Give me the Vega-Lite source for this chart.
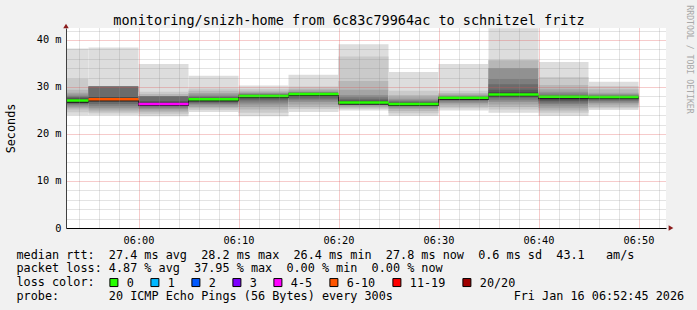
{
  "$schema": "https://vega.github.io/schema/vega-lite/v6.json",
  "width": 600,
  "height": 200,
  "autosize": {"type": "none"},
  "padding": {"left": 66, "top": 28, "right": 31, "bottom": 82},
  "background": "#f1f1f1",
  "config": {
    "view": {"stroke": null, "fill": "#ffffff"},
    "font": "DejaVu Sans Mono",
    "axis": {"labelFont": "DejaVu Sans Mono", "titleFont": "DejaVu Sans Mono", "labelColor": "#000000", "titleColor": "#000000", "titleFontWeight": "normal"}
  },
  "title": {
    "text": "monitoring/snizh-home from 6c83c79964ac to schnitzel fritz",
    "font": "DejaVu Sans Mono", "fontSize": 13.5, "fontWeight": "normal", "color": "#000000",
    "anchor": "middle", "frame": "bounds", "offset": -23
  },
  "datasets": {
    "smoke": [
      {"s": "2026-01-16T05:50:00Z", "e": "2026-01-16T05:55:00Z", "k": 1, "lo": 24.0, "hi": 38.2},
      {"s": "2026-01-16T05:50:00Z", "e": "2026-01-16T05:55:00Z", "k": 2, "lo": 24.6, "hi": 31.7},
      {"s": "2026-01-16T05:50:00Z", "e": "2026-01-16T05:55:00Z", "k": 3, "lo": 25.2, "hi": 29.4},
      {"s": "2026-01-16T05:50:00Z", "e": "2026-01-16T05:55:00Z", "k": 4, "lo": 25.6, "hi": 28.8},
      {"s": "2026-01-16T05:50:00Z", "e": "2026-01-16T05:55:00Z", "k": 5, "lo": 25.9, "hi": 28.4},
      {"s": "2026-01-16T05:50:00Z", "e": "2026-01-16T05:55:00Z", "k": 6, "lo": 26.2, "hi": 28.1},
      {"s": "2026-01-16T05:50:00Z", "e": "2026-01-16T05:55:00Z", "k": 7, "lo": 26.4, "hi": 27.9},
      {"s": "2026-01-16T05:50:00Z", "e": "2026-01-16T05:55:00Z", "k": 8, "lo": 26.6, "hi": 27.7},
      {"s": "2026-01-16T05:50:00Z", "e": "2026-01-16T05:55:00Z", "k": 9, "lo": 26.8, "hi": 27.5},
      {"s": "2026-01-16T05:50:00Z", "e": "2026-01-16T05:55:00Z", "k": 10, "lo": 26.95, "hi": 27.3},
      {"s": "2026-01-16T05:55:00Z", "e": "2026-01-16T06:00:00Z", "k": 1, "lo": 24.0, "hi": 38.4},
      {"s": "2026-01-16T05:55:00Z", "e": "2026-01-16T06:00:00Z", "k": 2, "lo": 24.4, "hi": 30.1},
      {"s": "2026-01-16T05:55:00Z", "e": "2026-01-16T06:00:00Z", "k": 3, "lo": 24.8, "hi": 30.1},
      {"s": "2026-01-16T05:55:00Z", "e": "2026-01-16T06:00:00Z", "k": 4, "lo": 25.2, "hi": 30.1},
      {"s": "2026-01-16T05:55:00Z", "e": "2026-01-16T06:00:00Z", "k": 5, "lo": 25.6, "hi": 30.1},
      {"s": "2026-01-16T05:55:00Z", "e": "2026-01-16T06:00:00Z", "k": 6, "lo": 26.0, "hi": 30.1},
      {"s": "2026-01-16T05:55:00Z", "e": "2026-01-16T06:00:00Z", "k": 7, "lo": 26.4, "hi": 30.1},
      {"s": "2026-01-16T05:55:00Z", "e": "2026-01-16T06:00:00Z", "k": 8, "lo": 26.8, "hi": 28.0},
      {"s": "2026-01-16T05:55:00Z", "e": "2026-01-16T06:00:00Z", "k": 9, "lo": 27.0, "hi": 27.8},
      {"s": "2026-01-16T05:55:00Z", "e": "2026-01-16T06:00:00Z", "k": 10, "lo": 27.2, "hi": 27.6},
      {"s": "2026-01-16T06:00:00Z", "e": "2026-01-16T06:05:00Z", "k": 1, "lo": 23.8, "hi": 34.9},
      {"s": "2026-01-16T06:00:00Z", "e": "2026-01-16T06:05:00Z", "k": 2, "lo": 24.2, "hi": 29.0},
      {"s": "2026-01-16T06:00:00Z", "e": "2026-01-16T06:05:00Z", "k": 3, "lo": 24.6, "hi": 28.5},
      {"s": "2026-01-16T06:00:00Z", "e": "2026-01-16T06:05:00Z", "k": 4, "lo": 25.0, "hi": 28.1},
      {"s": "2026-01-16T06:00:00Z", "e": "2026-01-16T06:05:00Z", "k": 5, "lo": 25.3, "hi": 28.1},
      {"s": "2026-01-16T06:00:00Z", "e": "2026-01-16T06:05:00Z", "k": 6, "lo": 25.6, "hi": 28.1},
      {"s": "2026-01-16T06:00:00Z", "e": "2026-01-16T06:05:00Z", "k": 7, "lo": 25.8, "hi": 28.1},
      {"s": "2026-01-16T06:00:00Z", "e": "2026-01-16T06:05:00Z", "k": 8, "lo": 26.0, "hi": 27.0},
      {"s": "2026-01-16T06:00:00Z", "e": "2026-01-16T06:05:00Z", "k": 9, "lo": 26.15, "hi": 26.8},
      {"s": "2026-01-16T06:00:00Z", "e": "2026-01-16T06:05:00Z", "k": 10, "lo": 26.3, "hi": 26.6},
      {"s": "2026-01-16T06:05:00Z", "e": "2026-01-16T06:10:00Z", "k": 1, "lo": 24.7, "hi": 32.4},
      {"s": "2026-01-16T06:05:00Z", "e": "2026-01-16T06:10:00Z", "k": 2, "lo": 25.1, "hi": 29.7},
      {"s": "2026-01-16T06:05:00Z", "e": "2026-01-16T06:10:00Z", "k": 3, "lo": 25.5, "hi": 29.2},
      {"s": "2026-01-16T06:05:00Z", "e": "2026-01-16T06:10:00Z", "k": 4, "lo": 25.8, "hi": 28.7},
      {"s": "2026-01-16T06:05:00Z", "e": "2026-01-16T06:10:00Z", "k": 5, "lo": 26.1, "hi": 28.4},
      {"s": "2026-01-16T06:05:00Z", "e": "2026-01-16T06:10:00Z", "k": 6, "lo": 26.4, "hi": 28.1},
      {"s": "2026-01-16T06:05:00Z", "e": "2026-01-16T06:10:00Z", "k": 7, "lo": 26.6, "hi": 27.9},
      {"s": "2026-01-16T06:05:00Z", "e": "2026-01-16T06:10:00Z", "k": 8, "lo": 26.8, "hi": 27.7},
      {"s": "2026-01-16T06:05:00Z", "e": "2026-01-16T06:10:00Z", "k": 9, "lo": 27.0, "hi": 27.6},
      {"s": "2026-01-16T06:05:00Z", "e": "2026-01-16T06:10:00Z", "k": 10, "lo": 27.2, "hi": 27.5},
      {"s": "2026-01-16T06:10:00Z", "e": "2026-01-16T06:15:00Z", "k": 1, "lo": 23.8, "hi": 30.3},
      {"s": "2026-01-16T06:10:00Z", "e": "2026-01-16T06:15:00Z", "k": 2, "lo": 24.5, "hi": 29.6},
      {"s": "2026-01-16T06:10:00Z", "e": "2026-01-16T06:15:00Z", "k": 3, "lo": 25.2, "hi": 29.2},
      {"s": "2026-01-16T06:10:00Z", "e": "2026-01-16T06:15:00Z", "k": 4, "lo": 25.8, "hi": 28.9},
      {"s": "2026-01-16T06:10:00Z", "e": "2026-01-16T06:15:00Z", "k": 5, "lo": 26.3, "hi": 28.7},
      {"s": "2026-01-16T06:10:00Z", "e": "2026-01-16T06:15:00Z", "k": 6, "lo": 26.7, "hi": 28.5},
      {"s": "2026-01-16T06:10:00Z", "e": "2026-01-16T06:15:00Z", "k": 7, "lo": 27.1, "hi": 28.4},
      {"s": "2026-01-16T06:10:00Z", "e": "2026-01-16T06:15:00Z", "k": 8, "lo": 27.4, "hi": 28.3},
      {"s": "2026-01-16T06:10:00Z", "e": "2026-01-16T06:15:00Z", "k": 9, "lo": 27.7, "hi": 28.2},
      {"s": "2026-01-16T06:10:00Z", "e": "2026-01-16T06:15:00Z", "k": 10, "lo": 27.9, "hi": 28.15},
      {"s": "2026-01-16T06:15:00Z", "e": "2026-01-16T06:20:00Z", "k": 1, "lo": 24.7, "hi": 32.6},
      {"s": "2026-01-16T06:15:00Z", "e": "2026-01-16T06:20:00Z", "k": 2, "lo": 25.3, "hi": 30.1},
      {"s": "2026-01-16T06:15:00Z", "e": "2026-01-16T06:20:00Z", "k": 3, "lo": 25.8, "hi": 29.6},
      {"s": "2026-01-16T06:15:00Z", "e": "2026-01-16T06:20:00Z", "k": 4, "lo": 26.3, "hi": 29.3},
      {"s": "2026-01-16T06:15:00Z", "e": "2026-01-16T06:20:00Z", "k": 5, "lo": 26.8, "hi": 29.0},
      {"s": "2026-01-16T06:15:00Z", "e": "2026-01-16T06:20:00Z", "k": 6, "lo": 27.2, "hi": 28.9},
      {"s": "2026-01-16T06:15:00Z", "e": "2026-01-16T06:20:00Z", "k": 7, "lo": 27.5, "hi": 28.8},
      {"s": "2026-01-16T06:15:00Z", "e": "2026-01-16T06:20:00Z", "k": 8, "lo": 27.8, "hi": 28.7},
      {"s": "2026-01-16T06:15:00Z", "e": "2026-01-16T06:20:00Z", "k": 9, "lo": 28.1, "hi": 28.6},
      {"s": "2026-01-16T06:15:00Z", "e": "2026-01-16T06:20:00Z", "k": 10, "lo": 28.3, "hi": 28.55},
      {"s": "2026-01-16T06:20:00Z", "e": "2026-01-16T06:25:00Z", "k": 1, "lo": 25.0, "hi": 39.1},
      {"s": "2026-01-16T06:20:00Z", "e": "2026-01-16T06:25:00Z", "k": 2, "lo": 25.3, "hi": 36.5},
      {"s": "2026-01-16T06:20:00Z", "e": "2026-01-16T06:25:00Z", "k": 3, "lo": 25.6, "hi": 31.3},
      {"s": "2026-01-16T06:20:00Z", "e": "2026-01-16T06:25:00Z", "k": 4, "lo": 25.9, "hi": 29.4},
      {"s": "2026-01-16T06:20:00Z", "e": "2026-01-16T06:25:00Z", "k": 5, "lo": 26.1, "hi": 28.3},
      {"s": "2026-01-16T06:20:00Z", "e": "2026-01-16T06:25:00Z", "k": 6, "lo": 26.3, "hi": 27.9},
      {"s": "2026-01-16T06:20:00Z", "e": "2026-01-16T06:25:00Z", "k": 7, "lo": 26.4, "hi": 27.5},
      {"s": "2026-01-16T06:20:00Z", "e": "2026-01-16T06:25:00Z", "k": 8, "lo": 26.5, "hi": 27.2},
      {"s": "2026-01-16T06:20:00Z", "e": "2026-01-16T06:25:00Z", "k": 9, "lo": 26.6, "hi": 27.0},
      {"s": "2026-01-16T06:20:00Z", "e": "2026-01-16T06:25:00Z", "k": 10, "lo": 26.65, "hi": 26.85},
      {"s": "2026-01-16T06:25:00Z", "e": "2026-01-16T06:30:00Z", "k": 1, "lo": 23.9, "hi": 33.2},
      {"s": "2026-01-16T06:25:00Z", "e": "2026-01-16T06:30:00Z", "k": 2, "lo": 24.4, "hi": 29.2},
      {"s": "2026-01-16T06:25:00Z", "e": "2026-01-16T06:30:00Z", "k": 3, "lo": 24.9, "hi": 28.3},
      {"s": "2026-01-16T06:25:00Z", "e": "2026-01-16T06:30:00Z", "k": 4, "lo": 25.3, "hi": 27.8},
      {"s": "2026-01-16T06:25:00Z", "e": "2026-01-16T06:30:00Z", "k": 5, "lo": 25.6, "hi": 27.4},
      {"s": "2026-01-16T06:25:00Z", "e": "2026-01-16T06:30:00Z", "k": 6, "lo": 25.8, "hi": 27.1},
      {"s": "2026-01-16T06:25:00Z", "e": "2026-01-16T06:30:00Z", "k": 7, "lo": 26.0, "hi": 26.9},
      {"s": "2026-01-16T06:25:00Z", "e": "2026-01-16T06:30:00Z", "k": 8, "lo": 26.1, "hi": 26.75},
      {"s": "2026-01-16T06:25:00Z", "e": "2026-01-16T06:30:00Z", "k": 9, "lo": 26.2, "hi": 26.6},
      {"s": "2026-01-16T06:25:00Z", "e": "2026-01-16T06:30:00Z", "k": 10, "lo": 26.3, "hi": 26.5},
      {"s": "2026-01-16T06:30:00Z", "e": "2026-01-16T06:35:00Z", "k": 1, "lo": 25.0, "hi": 34.9},
      {"s": "2026-01-16T06:30:00Z", "e": "2026-01-16T06:35:00Z", "k": 2, "lo": 25.5, "hi": 29.2},
      {"s": "2026-01-16T06:30:00Z", "e": "2026-01-16T06:35:00Z", "k": 3, "lo": 25.9, "hi": 28.7},
      {"s": "2026-01-16T06:30:00Z", "e": "2026-01-16T06:35:00Z", "k": 4, "lo": 26.3, "hi": 28.4},
      {"s": "2026-01-16T06:30:00Z", "e": "2026-01-16T06:35:00Z", "k": 5, "lo": 26.6, "hi": 28.2},
      {"s": "2026-01-16T06:30:00Z", "e": "2026-01-16T06:35:00Z", "k": 6, "lo": 26.9, "hi": 28.0},
      {"s": "2026-01-16T06:30:00Z", "e": "2026-01-16T06:35:00Z", "k": 7, "lo": 27.1, "hi": 27.95},
      {"s": "2026-01-16T06:30:00Z", "e": "2026-01-16T06:35:00Z", "k": 8, "lo": 27.3, "hi": 27.9},
      {"s": "2026-01-16T06:30:00Z", "e": "2026-01-16T06:35:00Z", "k": 9, "lo": 27.45, "hi": 27.85},
      {"s": "2026-01-16T06:30:00Z", "e": "2026-01-16T06:35:00Z", "k": 10, "lo": 27.6, "hi": 27.8},
      {"s": "2026-01-16T06:35:00Z", "e": "2026-01-16T06:40:00Z", "k": 1, "lo": 24.5, "hi": 42.5},
      {"s": "2026-01-16T06:35:00Z", "e": "2026-01-16T06:40:00Z", "k": 2, "lo": 25.2, "hi": 35.7},
      {"s": "2026-01-16T06:35:00Z", "e": "2026-01-16T06:40:00Z", "k": 3, "lo": 25.8, "hi": 35.7},
      {"s": "2026-01-16T06:35:00Z", "e": "2026-01-16T06:40:00Z", "k": 4, "lo": 26.3, "hi": 34.0},
      {"s": "2026-01-16T06:35:00Z", "e": "2026-01-16T06:40:00Z", "k": 5, "lo": 26.8, "hi": 34.0},
      {"s": "2026-01-16T06:35:00Z", "e": "2026-01-16T06:40:00Z", "k": 6, "lo": 27.2, "hi": 31.7},
      {"s": "2026-01-16T06:35:00Z", "e": "2026-01-16T06:40:00Z", "k": 7, "lo": 27.6, "hi": 30.6},
      {"s": "2026-01-16T06:35:00Z", "e": "2026-01-16T06:40:00Z", "k": 8, "lo": 27.9, "hi": 29.4},
      {"s": "2026-01-16T06:35:00Z", "e": "2026-01-16T06:40:00Z", "k": 9, "lo": 28.1, "hi": 28.9},
      {"s": "2026-01-16T06:35:00Z", "e": "2026-01-16T06:40:00Z", "k": 10, "lo": 28.25, "hi": 28.6},
      {"s": "2026-01-16T06:40:00Z", "e": "2026-01-16T06:45:00Z", "k": 1, "lo": 23.9, "hi": 35.3},
      {"s": "2026-01-16T06:40:00Z", "e": "2026-01-16T06:45:00Z", "k": 2, "lo": 24.5, "hi": 32.1},
      {"s": "2026-01-16T06:40:00Z", "e": "2026-01-16T06:45:00Z", "k": 3, "lo": 25.0, "hi": 30.4},
      {"s": "2026-01-16T06:40:00Z", "e": "2026-01-16T06:45:00Z", "k": 4, "lo": 25.5, "hi": 29.5},
      {"s": "2026-01-16T06:40:00Z", "e": "2026-01-16T06:45:00Z", "k": 5, "lo": 26.0, "hi": 29.0},
      {"s": "2026-01-16T06:40:00Z", "e": "2026-01-16T06:45:00Z", "k": 6, "lo": 26.4, "hi": 28.6},
      {"s": "2026-01-16T06:40:00Z", "e": "2026-01-16T06:45:00Z", "k": 7, "lo": 26.7, "hi": 28.3},
      {"s": "2026-01-16T06:40:00Z", "e": "2026-01-16T06:45:00Z", "k": 8, "lo": 27.0, "hi": 28.1},
      {"s": "2026-01-16T06:40:00Z", "e": "2026-01-16T06:45:00Z", "k": 9, "lo": 27.3, "hi": 28.0},
      {"s": "2026-01-16T06:40:00Z", "e": "2026-01-16T06:45:00Z", "k": 10, "lo": 27.6, "hi": 27.95},
      {"s": "2026-01-16T06:45:00Z", "e": "2026-01-16T06:50:00Z", "k": 1, "lo": 25.1, "hi": 31.1},
      {"s": "2026-01-16T06:45:00Z", "e": "2026-01-16T06:50:00Z", "k": 2, "lo": 25.5, "hi": 30.2},
      {"s": "2026-01-16T06:45:00Z", "e": "2026-01-16T06:50:00Z", "k": 3, "lo": 25.9, "hi": 29.5},
      {"s": "2026-01-16T06:45:00Z", "e": "2026-01-16T06:50:00Z", "k": 4, "lo": 26.3, "hi": 28.8},
      {"s": "2026-01-16T06:45:00Z", "e": "2026-01-16T06:50:00Z", "k": 5, "lo": 26.6, "hi": 28.5},
      {"s": "2026-01-16T06:45:00Z", "e": "2026-01-16T06:50:00Z", "k": 6, "lo": 26.9, "hi": 28.3},
      {"s": "2026-01-16T06:45:00Z", "e": "2026-01-16T06:50:00Z", "k": 7, "lo": 27.1, "hi": 28.1},
      {"s": "2026-01-16T06:45:00Z", "e": "2026-01-16T06:50:00Z", "k": 8, "lo": 27.4, "hi": 28.0},
      {"s": "2026-01-16T06:45:00Z", "e": "2026-01-16T06:50:00Z", "k": 9, "lo": 27.6, "hi": 27.95},
      {"s": "2026-01-16T06:45:00Z", "e": "2026-01-16T06:50:00Z", "k": 10, "lo": 27.75, "hi": 27.9}
    ],
    "median": [
      {"s": "2026-01-16T05:50:00Z", "e": "2026-01-16T05:55:00Z", "m": 27.1, "loss": "0"},
      {"s": "2026-01-16T05:55:00Z", "e": "2026-01-16T06:00:00Z", "m": 27.4, "loss": "6-10"},
      {"s": "2026-01-16T06:00:00Z", "e": "2026-01-16T06:05:00Z", "m": 26.4, "loss": "4-5"},
      {"s": "2026-01-16T06:05:00Z", "e": "2026-01-16T06:10:00Z", "m": 27.4, "loss": "0"},
      {"s": "2026-01-16T06:10:00Z", "e": "2026-01-16T06:15:00Z", "m": 28.1, "loss": "0"},
      {"s": "2026-01-16T06:15:00Z", "e": "2026-01-16T06:20:00Z", "m": 28.5, "loss": "0"},
      {"s": "2026-01-16T06:20:00Z", "e": "2026-01-16T06:25:00Z", "m": 26.7, "loss": "0"},
      {"s": "2026-01-16T06:25:00Z", "e": "2026-01-16T06:30:00Z", "m": 26.4, "loss": "0"},
      {"s": "2026-01-16T06:30:00Z", "e": "2026-01-16T06:35:00Z", "m": 27.7, "loss": "0"},
      {"s": "2026-01-16T06:35:00Z", "e": "2026-01-16T06:40:00Z", "m": 28.4, "loss": "0"},
      {"s": "2026-01-16T06:40:00Z", "e": "2026-01-16T06:45:00Z", "m": 27.9, "loss": "0"},
      {"s": "2026-01-16T06:45:00Z", "e": "2026-01-16T06:50:00Z", "m": 27.85, "loss": "0"}
    ]
  },
  "layer": [
    {
      "data": {"name": "smoke"},
      "mark": {"type": "rect", "clip": true},
      "encoding": {
        "x": {"field": "s", "type": "temporal",
          "scale": {"type": "utc", "domain": [1768542765000, 1768546365000]},
          "axis": {"orient": "bottom", "labels": false, "ticks": false, "domain": false, "title": null, "grid": true, "gridColor": "#8f8f8f", "gridOpacity": 0.5, "gridDash": [1, 1], "zindex": 1,
            "values": [1768542840000, 1768542960000, 1768543080000, 1768543320000, 1768543440000, 1768543560000, 1768543680000, 1768543920000, 1768544040000, 1768544160000, 1768544280000, 1768544520000, 1768544640000, 1768544760000, 1768544880000, 1768545120000, 1768545240000, 1768545360000, 1768545480000, 1768545720000, 1768545840000, 1768545960000, 1768546080000, 1768546320000]}},
        "x2": {"field": "e"},
        "y": {"field": "lo", "type": "quantitative",
          "scale": {"domain": [0, 42.55], "nice": false, "zero": false},
          "axis": {"orient": "left", "labels": false, "ticks": false, "domain": false, "title": null, "grid": true, "gridColor": "#8f8f8f", "gridOpacity": 0.5, "gridDash": [1, 1], "values": [2, 4, 6, 8, 12, 14, 16, 18, 22, 24, 26, 28, 32, 34, 36, 38, 42], "zindex": 1}},
        "y2": {"field": "hi"},
        "color": {"field": "k", "type": "ordinal",
          "scale": {"domain": [1, 2, 3, 4, 5, 6, 7, 8, 9, 10], "range": ["#dddddd", "#cacaca", "#b7b7b7", "#a4a4a4", "#919191", "#7e7e7e", "#6b6b6b", "#585858", "#454545", "#323232"]},
          "legend": null}
      }
    },
    {
      "data": {"name": "median"},
      "mark": {"type": "rule", "clip": true, "color": "#202020", "strokeWidth": 1, "yOffset": 1.5},
      "encoding": {
        "x": {"field": "s", "type": "temporal",
          "axis": {"orient": "bottom", "format": "%H:%M", "ticks": false, "labelPadding": 7, "labelFontSize": 10.3, "labelFlush": false, "labelOverlap": false,
            "values": [1768543200000, 1768543800000, 1768544400000, 1768545000000, 1768545600000, 1768546200000],
            "domain": true, "domainColor": "#000000", "domainWidth": 1,
            "grid": true, "gridColor": "#e05050", "gridOpacity": 0.6, "gridDash": [1, 1], "zindex": 1,
            "title": ["median rtt:\u00a0\u00a027.4 ms avg\u00a0\u00a028.2 ms max\u00a0\u00a026.4 ms min\u00a0\u00a027.8 ms now\u00a0\u00a00.6 ms sd\u00a0\u00a043.1\u00a0\u00a0\u00a0am/s", "packet loss: 4.87 % avg\u00a0\u00a037.95 % max\u00a0\u00a00.00 % min\u00a0\u00a00.00 % now", "loss color:", "probe:\u00a0\u00a0\u00a0\u00a0\u00a0\u00a0\u00a020 ICMP Echo Pings (56 Bytes) every 300s\u00a0\u00a0\u00a0\u00a0\u00a0\u00a0\u00a0\u00a0\u00a0\u00a0\u00a0\u00a0\u00a0\u00a0\u00a0\u00a0\u00a0Fri Jan 16 06:52:45 2026"],
            "titleFontSize": 11.8, "titleAlign": "left", "titleAnchor": "start", "titleBaseline": "top", "titleX": -50, "titleY": 21, "titleLineHeight": 13.8}},
        "x2": {"field": "e"},
        "y": {"field": "m", "type": "quantitative",
          "axis": {"orient": "left", "values": [0, 10, 20, 30, 40], "labelExpr": "datum.value == 0 ? '0' : datum.value + ' m'", "ticks": false, "labelPadding": 5, "labelFontSize": 10.3, "labelBaseline": "middle",
            "domain": true, "domainColor": "#404040", "domainWidth": 1,
            "grid": true, "gridColor": "#e05050", "gridOpacity": 0.6, "gridDash": [1, 1], "zindex": 1,
            "title": "Seconds", "titleFontSize": 11.8, "titleX": -56, "titleY": 100, "titleAngle": -90, "titleAlign": "center", "titleBaseline": "middle"}}
      }
    },
    {
      "data": {"name": "median"},
      "mark": {"type": "line", "clip": true, "interpolate": "step-after", "color": "#202020", "strokeWidth": 1, "yOffset": 1.5},
      "encoding": {
        "x": {"field": "s", "type": "temporal", "axis": null},
        "y": {"field": "m", "type": "quantitative",
          "axis": {"orient": "right", "labels": false, "ticks": false, "domain": false, "grid": false,
            "title": "RRDTOOL / TOBI OETIKER", "titleFontSize": 8.2, "titleColor": "#a8a8a8", "titleX": 22, "titleY": 31, "titleAngle": 90, "titleAlign": "center", "titleBaseline": "middle"}}
      }
    },
    {
      "data": {"name": "median"},
      "mark": {"type": "rule", "clip": true, "strokeWidth": 2.5},
      "encoding": {
        "x": {"field": "s", "type": "temporal", "axis": null},
        "x2": {"field": "e"},
        "y": {"field": "m", "type": "quantitative", "axis": null},
        "stroke": {"field": "loss", "type": "nominal",
          "scale": {"domain": ["20/20", "11-19", "6-10", "4-5", "3", "2", "1", "0"], "range": ["#a00000", "#ff0000", "#ff5500", "#ff00ff", "#7e00ff", "#0059ff", "#00b8ff", "#26ff00"]},
          "legend": null}
      }
    },
    {
      "data": {"name": "median"},
      "mark": {"type": "square", "filled": true, "opacity": 0, "size": 1, "clip": true},
      "encoding": {
        "x": {"field": "s", "type": "temporal", "axis": null},
        "y": {"field": "m", "type": "quantitative", "axis": null},
        "fill": {"field": "loss", "type": "nominal",
          "scale": {"domain": ["0", "1", "2", "3", "4-5", "6-10", "11-19", "20/20"], "range": ["#26ff00", "#00b8ff", "#0059ff", "#7e00ff", "#ff00ff", "#ff5500", "#ff0000", "#a00000"]},
          "legend": {"orient": "none", "legendX": 42, "legendY": 248.5, "direction": "horizontal", "padding": 0, "title": null,
            "labelFont": "DejaVu Sans Mono", "labelFontSize": 11.8, "labelColor": "#000000", "labelOffset": 7, "columnPadding": 14, "labelBaseline": "middle",
            "symbolType": "square", "symbolSize": 64, "symbolStrokeColor": "#000000", "symbolStrokeWidth": 1, "symbolOpacity": 1}}
      }
    },
    {
      "data": {"values": [{}]},
      "mark": {"type": "point", "shape": "triangle-up", "filled": true, "size": 30, "color": "#8b1c1c", "opacity": 1, "yOffset": -2, "clip": false},
      "encoding": {
        "x": {"datum": 1768542765000, "type": "temporal", "axis": null},
        "y": {"datum": 42.55, "type": "quantitative", "axis": null}
      }
    },
    {
      "data": {"values": [{}]},
      "mark": {"type": "point", "shape": "triangle-right", "filled": true, "size": 30, "color": "#8b1c1c", "opacity": 1, "xOffset": 5, "clip": false},
      "encoding": {
        "x": {"datum": 1768546365000, "type": "temporal", "axis": null},
        "y": {"datum": 0, "type": "quantitative", "axis": null}
      }
    }
  ],
  "resolve": {"axis": {"x": "independent", "y": "independent"}}
}
